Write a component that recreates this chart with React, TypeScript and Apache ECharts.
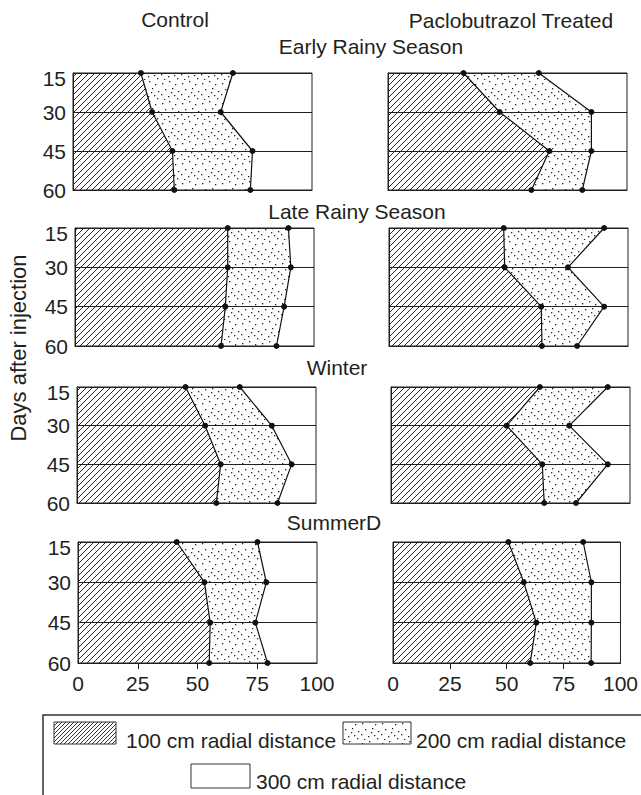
import React, { useEffect, useRef } from 'react';
import * as echarts from 'echarts';

// ---- data (percent of panel width) ----
const depthLabels = ['15', '30', '45', '60'];
const xTickValues = [25, 50, 75];

const earlyControl100 = [28.4, 33.1, 41.6, 42.4];
const earlyControl200 = [66.9, 61.8, 75.1, 74.2];
const earlyTreated100 = [31.6, 46.7, 67.5, 60.0];
const earlyTreated200 = [63.1, 85.1, 85.1, 81.3];
const lateControl100 = [63.9, 63.9, 62.9, 61.1];
const lateControl200 = [89.3, 90.3, 87.5, 84.3];
const lateTreated100 = [48.0, 48.4, 63.7, 64.0];
const lateTreated200 = [90.0, 74.9, 90.0, 78.7];
const winterControl100 = [45.4, 53.6, 60.1, 58.3];
const winterControl200 = [68.1, 81.5, 89.8, 83.9];
const winterTreated100 = [62.3, 48.4, 63.3, 64.1];
const winterTreated200 = [90.7, 74.6, 90.7, 77.4];
const summerControl100 = [41.3, 52.9, 55.3, 54.9];
const summerControl200 = [75.1, 78.8, 74.2, 79.3];
const summerTreated100 = [50.7, 57.5, 63.0, 60.3];
const summerTreated200 = [83.6, 87.2, 87.2, 87.1];

const treatments = ['Control', 'Paclobutrazol Treated'];
const seasons = ['Early Rainy Season', 'Late Rainy Season', 'Winter', 'SummerD'];
const zoneNames = ['100 cm radial distance', '200 cm radial distance', '300 cm radial distance'];
const yAxisTitle = 'Days after injection';

const panels = [
  [earlyControl100, earlyControl200],
  [earlyTreated100, earlyTreated200],
  [lateControl100, lateControl200],
  [lateTreated100, lateTreated200],
  [winterControl100, winterControl200],
  [winterTreated100, winterTreated200],
  [summerControl100, summerControl200],
  [summerTreated100, summerTreated200],
];

// ---- layout ----
const FONT = 'Liberation Sans, Arial, sans-serif';
const FS = 21;
const INK = '#231f20';
const rowTops = [73, 228, 387, 542];
const rowHeights = [117, 118, 116, 121];
const colLefts = [
  [73, 388],
  [75, 389],
  [77, 391],
  [78, 393],
];
const PANEL_W = 239;

function hatchPattern(size: number, width: number) {
  const c = document.createElement('canvas');
  c.width = size;
  c.height = size;
  const g = c.getContext('2d')!;
  g.strokeStyle = '#1f1f1f';
  g.lineWidth = width;
  g.beginPath();
  g.moveTo(-1, size + 1);
  g.lineTo(size + 1, -1);
  g.moveTo(-1, 1);
  g.lineTo(1, -1);
  g.moveTo(size - 1, size + 1);
  g.lineTo(size + 1, size - 1);
  g.stroke();
  return { image: c.toDataURL(), repeat: 'repeat', imageWidth: size, imageHeight: size };
}

function dotPattern() {
  const c = document.createElement('canvas');
  c.width = 20;
  c.height = 20;
  const g = c.getContext('2d')!;
  g.fillStyle = '#222';
  const spots = [
    [2, 3], [9, 1], [15, 4], [5, 9], [12, 8], [18, 11],
    [1, 14], [8, 16], [14, 15], [17, 18], [4, 19], [11, 12],
  ];
  spots.forEach(([x, y]) => g.fillRect(x, y, 1.3, 1.3));
  return { image: c.toDataURL(), repeat: 'repeat', imageWidth: 20, imageHeight: 20 };
}

export default function App() {
  const ref = useRef<HTMLDivElement>(null);

  useEffect(() => {
    document.body.style.margin = '0';
    const chart = echarts.init(ref.current!, null, { renderer: 'svg' });
    const hatch = hatchPattern(6, 0.95);
    const hatchSwatch = hatchPattern(4, 0.9);
    const dots = dotPattern();

    const grids: any[] = [];
    const xAxes: any[] = [];
    const yAxes: any[] = [];
    const series: any[] = [];

    panels.forEach(([inner, outer], i) => {
      const row = Math.floor(i / 2);
      const col = i % 2;
      const bottomRow = row === 3;
      grids.push({
        left: colLefts[row][col],
        top: rowTops[row],
        width: PANEL_W,
        height: rowHeights[row],
        show: true,
        borderColor: INK,
        borderWidth: 1,
      });
      xAxes.push({
        type: 'value',
        gridIndex: i,
        min: 0,
        max: 100,
        interval: 25,
        splitLine: { show: false },
        axisLine: { show: true, lineStyle: { color: INK, width: 1 } },
        axisTick: {
          show: bottomRow,
          customValues: xTickValues,
          length: 6,
          lineStyle: { color: INK, width: 1 },
        },
        axisLabel: {
          show: bottomRow,
          fontSize: FS,
          color: INK,
          fontFamily: FONT,
          margin: 10,
        },
      });
      yAxes.push({
        type: 'category',
        gridIndex: i,
        data: depthLabels,
        inverse: true,
        boundaryGap: false,
        axisLine: { show: true, lineStyle: { color: INK, width: 1 } },
        axisTick: { show: false },
        splitLine: { show: true, lineStyle: { color: INK, width: 1 } },
        axisLabel: {
          show: col === 0,
          fontSize: FS,
          color: INK,
          fontFamily: FONT,
          margin: 7,
          formatter: (v: string) => (v === depthLabels[0] ? `{first|${v}}` : v),
          rich: {
            first: { fontSize: FS, fontFamily: FONT, color: INK, padding: [10, 0, 0, 0] },
          },
        },
      });
      const common = {
        type: 'line',
        xAxisIndex: i,
        yAxisIndex: i,
        stack: 'zone' + i,
        symbol: 'circle',
        symbolSize: 6,
        clip: false,
        itemStyle: { color: '#111' },
        lineStyle: { color: '#111', width: 1.2 },
      };
      series.push({
        ...common,
        name: zoneNames[0],
        data: inner,
        areaStyle: { color: hatch, opacity: 1 },
      });
      series.push({
        ...common,
        name: zoneNames[1],
        data: outer.map((v, k) => +(v - inner[k]).toFixed(1)),
        areaStyle: { color: dots, opacity: 1 },
      });
    });

    const txt = (text: string, x: number, y: number, extra: any = {}) => ({
      type: 'text',
      x,
      y,
      ...extra,
      style: {
        text,
        fontSize: FS,
        fontFamily: FONT,
        fill: INK,
        align: 'center',
        verticalAlign: 'middle',
        ...(extra.style || {}),
      },
    });

    const graphic: any[] = [
      txt(treatments[0], 175, 19),
      txt(treatments[1], 511, 20),
      txt(seasons[0], 371, 46),
      txt(seasons[1], 357, 211),
      txt(seasons[2], 337, 367),
      txt(seasons[3], 334, 522),
      txt(yAxisTitle, 18, 348, { rotation: Math.PI / 2, style: { fontSize: 22 } }),
      {
        type: 'rect',
        shape: { x: 43, y: 715, width: 640, height: 120 },
        style: { fill: 'none', stroke: '#333', lineWidth: 1.5 },
      },
      {
        type: 'rect',
        shape: { x: 54, y: 722, width: 62, height: 22 },
        style: { fill: hatchSwatch, stroke: '#333', lineWidth: 1 },
      },
      txt(zoneNames[0], 126, 740, { style: { align: 'left' } }),
      {
        type: 'rect',
        shape: { x: 343, y: 722, width: 68, height: 22 },
        style: { fill: dots, stroke: '#333', lineWidth: 1 },
      },
      txt(zoneNames[1], 416, 740, { style: { align: 'left' } }),
      {
        type: 'rect',
        shape: { x: 191, y: 764, width: 59, height: 24 },
        style: { fill: '#fff', stroke: '#333', lineWidth: 1 },
      },
      txt(zoneNames[2], 256, 781, { style: { align: 'left' } }),
    ];

    chart.setOption({
      animation: false,
      backgroundColor: '#fff',
      textStyle: { fontFamily: FONT },
      grid: grids,
      xAxis: xAxes,
      yAxis: yAxes,
      series,
      graphic,
    });

    return () => chart.dispose();
  }, []);

  return <div ref={ref} style={{ width: 641, height: 795 }} />;
}
